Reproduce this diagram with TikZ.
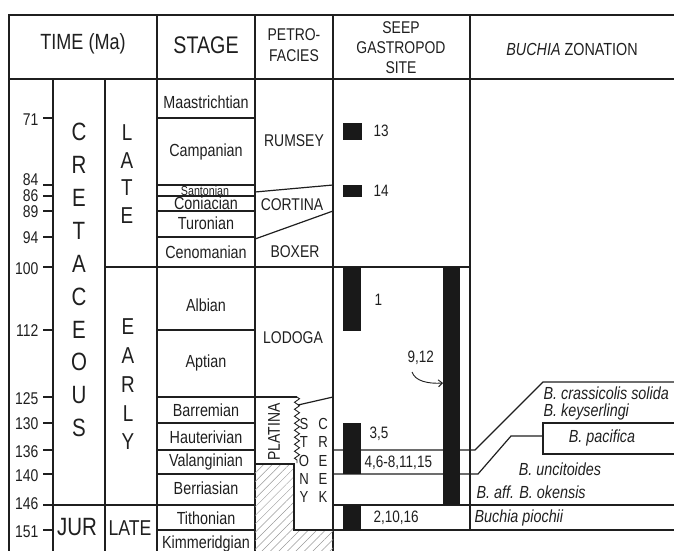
\documentclass[tikz,border=0pt]{standalone}
\usepackage{fontspec}
\setmainfont{Liberation Sans}[FakeStretch=0.82]
\usetikzlibrary{calc,patterns.meta,decorations.pathmorphing,arrows.meta}
\definecolor{ink}{gray}{0.12}
\newcommand{\setfs}[1]{\fontsize{#1}{#1}\selectfont}

\begin{document}
\begin{tikzpicture}[x=1pt,y=-1pt,line width=1.2pt,color=ink]

\tikzset{stagelbl/.style={font=\setfs{17.5},inner sep=0pt},
ticklbl/.style={font=\setfs{17},anchor=east,inner sep=0pt},
eralbl/.style={font=\setfs{25},inner sep=0pt},
epochlbl/.style={font=\setfs{23},inner sep=0pt},
petrolbl/.style={font=\setfs{17},inner sep=0pt},
creeklbl/.style={font=\setfs{16},inner sep=0pt},
seeplbl/.style={font=\setfs{16.5},anchor=west,inner sep=0pt},
zonelbl/.style={font=\setfs{17.5}\itshape,anchor=west,inner sep=0pt},
bar/.style={fill=black!90,draw=none},
hatch/.style={pattern={Lines[angle=45,distance=6pt,line width=0.5pt]},pattern color=gray!80}}

\useasboundingbox (0,0) rectangle (674,550);
\clip (0,0) rectangle (674,550);

% Frame and columns
\draw (9,560) -- (9,15) -- (680,15);
\draw (9,79) -- (680,79);
\foreach \x in {53,105} \draw (\x,79) -- (\x,560);
\foreach \x in {157,255,333} \draw (\x,15) -- (\x,560);
\draw (470,15) -- (470,530);

% Header
\node[font=\setfs{22}] (hTime) at (83,44) {TIME (Ma)};
\node[font=\setfs{24}] (hStage) at (206,45) {STAGE};
\node[font=\setfs{17},align=center] (hPetro) at (294,45) {PETRO-\\[4pt]FACIES};
\node[font=\setfs{17},align=center] (hSeep) at (401,48) {SEEP\\[3pt]GASTROPOD\\[3pt]SITE};
\node[font=\setfs{17.5}] (hZone) at (572,49) {\textit{BUCHIA} ZONATION};

% Time axis
\foreach \t/\y/\ly in {71/118/120,84/185/180,86/196/196,89/211/212,94/237/238,100/267/269,112/330/331,125/397/399,130/423/424,136/450/452,140/474/476,146/505/504,151/530/532}
 {\draw (43,\y) -- (53,\y); \node[ticklbl] (t\t) at (39,\ly) {\t};}

% Era and epoch
\foreach \l [count=\i] in {C,R,E,T,A,C,E,O,U,S} \node[eralbl] (era\i) at (79,{132+(\i-1)*32.9}) {\l};
\foreach \l [count=\i] in {L,A,T,E} \node[epochlbl] (late\i) at (127,{133+(\i-1)*27.5}) {\l};
\foreach \l [count=\i] in {E,A,R,L,Y} \node[epochlbl] (early\i) at (128,{327+(\i-1)*28.7}) {\l};
\node[eralbl] (jur) at (77,527) {JUR};
\node[font=\setfs{21.5},inner sep=0pt] (jurLate) at (130,528) {LATE};

% Boundaries
\draw (43,505) -- (255,505);
\draw (105,267) -- (470,267);
\foreach \y in {118,185,196,211,237,330,423,450,474,530} \draw (157,\y) -- (255,\y);
\draw (157,397) -- (297,397);

% Stages
\foreach \s/\y in {Maastrichtian/102,Campanian/152,Coniacian/203,Turonian/223,Cenomanian/252,Albian/305,Aptian/363,Barremian/410,Hauterivian/437,Valanginian/462,Berriasian/488,Tithonian/518,Kimmeridgian/544}
 \node[stagelbl] (st-\s) at (206,\y) {\s};
\node[stagelbl,font=\setfs{13}] (st-Santonian) at (205,191) {Santonian};

% Petrofacies
\draw (255,192) -- (333,185);
\draw (255,239) -- (333,211);
\draw[decorate,decoration={zigzag,segment length=7pt,amplitude=2.5pt},line width=0.9pt] (297,397) -- (297,463);
\draw (298,405) -- (333,397);
\fill[hatch] (255,464) -- (294,464) -- (294,530) -- (333,530) -- (333,560) -- (255,560) -- cycle;
\draw (255,464) -- (294,464) -- (294,530) -- (333,530);
\node[petrolbl] (pRumsey) at (294,141) {RUMSEY};
\node[petrolbl] (pCortina) at (292,205) {CORTINA};
\node[petrolbl] (pBoxer) at (295,252) {BOXER};
\node[petrolbl] (pLodoga) at (293,338) {LODOGA};
\node[petrolbl,rotate=90] (pPlatina) at (274,432) {PLATINA};
\foreach \l [count=\i] in {S,T,O,N,Y} \node[creeklbl] (stony\i) at (304,{424+(\i-1)*18.3}) {\l};
\foreach \l [count=\i] in {C,R,E,E,K} \node[creeklbl] (creek\i) at (323,{424+(\i-1)*18.3}) {\l};

% Seep gastropod sites
\draw (333,450) -- (475,450) -- (543,382) -- (680,382);
\draw (333,474) -- (478,474) -- (511,436) -- (543,436);
\draw (333,505) -- (680,505);
\draw (294,530) -- (680,530);
\fill[bar] (343,123) rectangle (362,140);
\fill[bar] (343,185) rectangle (362,197);
\fill[bar] (343,267) rectangle (361,331);
\fill[bar] (343,423) rectangle (361,474);
\fill[bar] (343,505) rectangle (361,530);
\fill[bar] (443,267) rectangle (460,505);
\node[seeplbl] (s13) at (373,131) {13};
\node[seeplbl] (s14) at (373,191) {14};
\node[seeplbl] (s1) at (374,300) {1};
\node[seeplbl] (s912) at (407,358) {9,12};
\node[seeplbl] (s35) at (369,434) {3,5};
\node[seeplbl] (s4615) at (364,463) {4,6-8,11,15};
\node[seeplbl] (s21016) at (373,518) {2,10,16};
\coordinate (a912) at (412,372);
\coordinate (longbar) at (443,383);
\draw[-{Straight Barb[length=4pt,width=7pt]},line width=0.9pt] (a912) .. controls (415,381) and (428,384) .. (longbar);

% Buchia zonation
\draw (680,423) -- (543,423) -- (543,454) -- (680,454);
\node[zonelbl] (zCrass) at (543,393) {B. crassicolis solida};
\node[zonelbl] (zKeys) at (543,412) {B. keyserlingi};
\node[zonelbl,anchor=center] (zPac) at (602,438) {B. pacifica};
\node[zonelbl,anchor=center] (zUnc) at (560,469) {B. uncitoides};
\node[zonelbl] (zOken) at (476,492) {B. aff. B. okensis};
\node[zonelbl] (zPio) at (474,518) {Buchia piochii};

\end{tikzpicture}
\end{document}
